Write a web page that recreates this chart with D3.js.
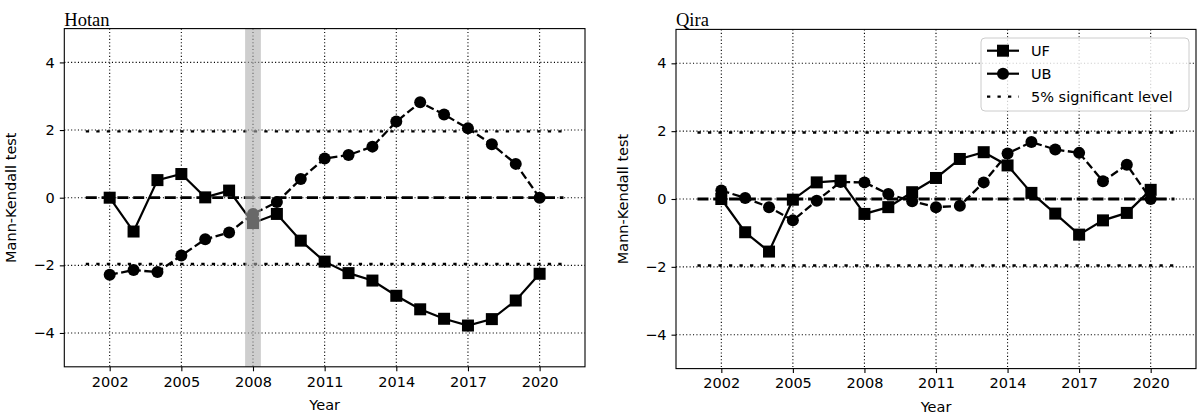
<!DOCTYPE html>
<html><head><meta charset="utf-8">
<script src="https://cdn.jsdelivr.net/npm/d3@7"></script>
<style>
html,body{margin:0;padding:0;background:#fff;}
svg text{font-family:"DejaVu Sans",sans-serif;}
</style></head>
<body><svg id="c" width="1197" height="415"></svg>
<script>
const years = [2002,2003,2004,2005,2006,2007,2008,2009,2010,2011,2012,2013,2014,2015,2016,2017,2018,2019,2020];
const hotanUF = [0,-1.0,0.52,0.70,0.01,0.21,-0.75,-0.48,-1.27,-1.89,-2.23,-2.45,-2.90,-3.30,-3.58,-3.78,-3.59,-3.04,-2.25];
const hotanUB = [-2.28,-2.14,-2.20,-1.71,-1.23,-1.03,-0.48,-0.13,0.55,1.16,1.26,1.51,2.25,2.82,2.46,2.05,1.58,1.00,0];
const qiraUF = [0,-0.98,-1.55,-0.02,0.49,0.54,-0.44,-0.24,0.20,0.62,1.18,1.38,0.99,0.18,-0.43,-1.05,-0.63,-0.41,0.27];
const qiraUB = [0.25,0.03,-0.24,-0.63,-0.05,0.50,0.49,0.15,-0.07,-0.24,-0.20,0.49,1.34,1.68,1.46,1.36,0.52,1.01,0];
const xTicks = [2002,2005,2008,2011,2014,2017,2020];
const yTicks = [-4,-2,0,2,4];
const sigLevel = [-1.96, 1.96];
const hotanBreaks = [2008];
const qiraBreaks = [];
const legendLabels = ["UF","UB","5% significant level"];

const svg = d3.select("#c");

function panel(o){
  const x = d3.scaleLinear().domain([2000.1,2021.9]).range([o.l,o.r]);
  const y = d3.scaleLinear().domain([-5,5]).range([o.b,o.t]);
  const g = svg.append("g");
  // grid
  g.selectAll(".gx").data(xTicks).join("line")
    .attr("x1",d=>x(d)).attr("x2",d=>x(d)).attr("y1",o.t).attr("y2",o.b)
    .attr("stroke","#000").attr("stroke-width",1.1).attr("stroke-dasharray","1.1,2.3");
  g.selectAll(".gy").data(yTicks).join("line")
    .attr("y1",d=>y(d)).attr("y2",d=>y(d)).attr("x1",o.l).attr("x2",o.r)
    .attr("stroke","#000").attr("stroke-width",1.1).attr("stroke-dasharray","1.1,2.3");
  // significance lines
  g.selectAll(".sig").data(sigLevel).join("line")
    .attr("x1",x(2001)).attr("x2",x(2021)).attr("y1",d=>y(d)).attr("y2",d=>y(d))
    .attr("stroke","#000").attr("stroke-width",2.3).attr("stroke-dasharray","3.3,7.2");
  // zero line
  g.append("line").attr("x1",x(2001)).attr("x2",x(2021)).attr("y1",y(0)).attr("y2",y(0))
    .attr("stroke","#000").attr("stroke-width",2.8).attr("stroke-dasharray","11,4.8");
  const line = d3.line().x((d,i)=>x(years[i])).y(d=>y(d));
  // UF
  g.append("path").datum(o.uf).attr("d",line).attr("fill","none").attr("stroke","#000").attr("stroke-width",2.2);
  g.selectAll(".sq").data(o.uf).join("rect")
    .attr("x",(d,i)=>x(years[i])-6).attr("y",d=>y(d)-6).attr("width",12).attr("height",12).attr("fill","#000");
  // UB
  g.append("path").datum(o.ub).attr("d",line).attr("fill","none").attr("stroke","#000").attr("stroke-width",2.3).attr("stroke-dasharray","8.2,3.5");
  g.selectAll(".ci").data(o.ub).join("circle")
    .attr("cx",(d,i)=>x(years[i])).attr("cy",d=>y(d)).attr("r",6).attr("fill","#000");
  // break band
  g.selectAll(".band").data(o.breaks).join("rect")
    .attr("x",d=>x(d-0.33)).attr("width",d=>x(d+0.33)-x(d-0.33)).attr("y",o.t).attr("height",o.b-o.t)
    .attr("fill","#adadad").attr("fill-opacity",0.6);
  // frame
  g.append("rect").attr("x",o.l).attr("y",o.t).attr("width",o.r-o.l).attr("height",o.b-o.t)
    .attr("fill","none").attr("stroke","#000").attr("stroke-width",1.1);
  // axes
  const xa = g.append("g").attr("transform",`translate(0,${o.b})`)
    .call(d3.axisBottom(x).tickValues(xTicks).tickFormat(d3.format("d")).tickSizeOuter(0).tickSize(4.5).tickPadding(5));
  const ya = g.append("g").attr("transform",`translate(${o.l},0)`)
    .call(d3.axisLeft(y).tickValues(yTicks).tickFormat(d=>d<0?"\u2212"+Math.abs(d):d).tickSizeOuter(0).tickSize(4.5).tickPadding(5));
  [xa,ya].forEach(a=>{
    a.select(".domain").remove();
    a.selectAll("line").attr("stroke","#000").attr("stroke-width",1.1);
    a.selectAll("text").attr("fill","#000").style("font-size","14.5px").style("font-family","DejaVu Sans");
  });
  // labels
  g.append("text").attr("x",(o.l+o.r)/2).attr("y",o.b+43).attr("text-anchor","middle")
    .style("font-size","14.5px").text("Year");
  g.append("text").attr("transform",`translate(${o.l-48},${(o.t+o.b)/2}) rotate(-90)`).attr("text-anchor","middle")
    .style("font-size","14.5px").text("Mann-Kendall test");
  g.append("text").attr("x",o.l).attr("y",o.t-3).style("font-family","'Liberation Serif','Times New Roman',serif")
    .style("font-size","18.5px").text(o.title);
  return {x,y,g};
}

panel({l:64.3,r:585,t:28.6,b:366.8,uf:hotanUF,ub:hotanUB,breaks:hotanBreaks,title:"Hotan"});
panel({l:676,r:1196,t:29.4,b:368.6,uf:qiraUF,ub:qiraUB,breaks:qiraBreaks,title:"Qira"});

// legend
const lg = svg.append("g");
lg.append("rect").attr("x",981).attr("y",38).attr("width",208).attr("height",73).attr("rx",4)
  .attr("fill","#fff").attr("fill-opacity",0.8).attr("stroke","#ccc").attr("stroke-width",1);
const rows = [50.7,73.7,96.7];
legendLabels.forEach((t,i)=>{
  const yy = rows[i];
  if(i<2){
    lg.append("line").attr("x1",987).attr("x2",1019).attr("y1",yy).attr("y2",yy).attr("stroke","#000").attr("stroke-width",2.2);
    if(i===0) lg.append("rect").attr("x",1003-6).attr("y",yy-6).attr("width",12).attr("height",12).attr("fill","#000");
    else lg.append("circle").attr("cx",1003).attr("cy",yy).attr("r",6).attr("fill","#000");
  } else {
    lg.append("line").attr("x1",987).attr("x2",1019).attr("y1",yy).attr("y2",yy).attr("stroke","#000").attr("stroke-width",2.3).attr("stroke-dasharray","3.3,7.2");
  }
  lg.append("text").attr("x",1031).attr("y",yy).attr("dy","0.36em").style("font-size","14.5px").text(t);
});
</script></body></html>
